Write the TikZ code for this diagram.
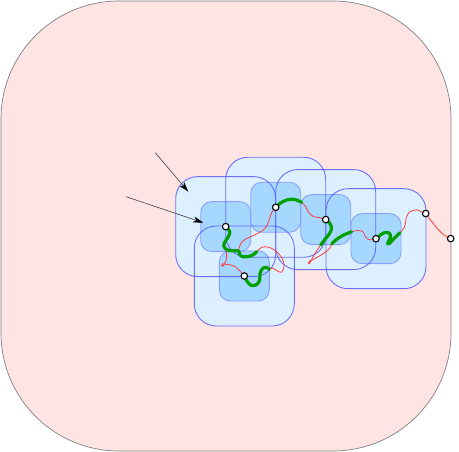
\documentclass[tikz,border=0pt]{standalone}
\usetikzlibrary{arrows.meta}
\definecolor{bgpink}{HTML}{FFE4E4}
\definecolor{framegray}{HTML}{808080}
\definecolor{outerfill}{HTML}{DDF0FF}
\definecolor{innerfill}{HTML}{A6D8FF}
\definecolor{boxline}{HTML}{5A5AFF}
\definecolor{innerline}{HTML}{7F8FFF}
\definecolor{pathred}{HTML}{FF3B3B}
\definecolor{pathgreen}{HTML}{00A000}
\definecolor{arrowgray}{HTML}{404040}
\begin{document}
\begin{tikzpicture}[x=1pt,y=-1pt,
  outerbg/.style={rectangle,rounded corners=22pt,minimum size=100pt,inner sep=0pt,fill=outerfill},
  innerbg/.style={rectangle,rounded corners=11pt,minimum size=50pt,inner sep=0pt,fill=innerfill},
  outerrim/.style={rectangle,rounded corners=22pt,minimum size=100pt,inner sep=0pt,draw=boxline,draw opacity=0.85,line width=0.9pt},
  innerrim/.style={rectangle,rounded corners=11pt,minimum size=50pt,inner sep=0pt,draw=innerline,draw opacity=0.8,line width=0.9pt},
  redpath/.style={draw=pathred,line width=0.8pt},
  greenpath/.style={draw=pathgreen,line width=3.2pt,line cap=round,line join=round},
  dot/.style={circle,draw=black,fill=white,line width=1.1pt,minimum size=6.5pt,inner sep=0pt},
  pointer/.style={draw=arrowgray,line width=0.6pt,-{Stealth[length=10pt,width=6pt,inset=2.5pt,black]}}]
\useasboundingbox (0,0) rectangle (459,452);
% frame
\node[draw=framegray,fill=bgpink,line width=0.7pt,rounded corners=118pt,rectangle,
      minimum width=450pt,minimum height=450pt,inner sep=0pt] (frame) at (226,226) {};
% points
\coordinate (p1) at (225.7,226.6);
\coordinate (p2) at (244.3,276.0);
\coordinate (p3) at (275.7,207.3);
\coordinate (p4) at (325.7,219.6);
\coordinate (p5) at (376.0,238.7);
\coordinate (p6) at (425.7,213.5);
\coordinate (p7) at (450.7,238.6);
% junctions
\coordinate (j0) at (223.8,246.0);
\coordinate (j1) at (256.7,251.7);
\coordinate (j2) at (238.5,250.9);
\coordinate (j3) at (269.3,269.5);
\coordinate (j4) at (301.7,202.3);
\coordinate (j5) at (320.7,245.0);
\coordinate (j6) at (331.7,244.0);
\coordinate (j7) at (351.7,231.7);
\coordinate (j8) at (400.0,232.7);
\coordinate (a1s) at (155.3,152.7);
\coordinate (a1e) at (188.3,191.7);
\coordinate (a2s) at (126.0,196.7);
\coordinate (a2e) at (203.3,222.7);
% box fills
\node[outerbg] (ob1) at (p1) {};
\node[outerbg] (ob2) at (p2) {};
\node[outerbg] (ob3) at (p3) {};
\node[outerbg] (ob4) at (p4) {};
\node[outerbg] (ob5) at (p5) {};
\node[innerbg] (ib1) at (p1) {};
\node[innerbg] (ib2) at (p2) {};
\node[innerbg] (ib3) at (p3) {};
\node[innerbg] (ib4) at (p4) {};
\node[innerbg] (ib5) at (p5) {};
% box rims
\node[innerrim] (ir1) at (p1) {};
\node[innerrim] (ir2) at (p2) {};
\node[innerrim] (ir3) at (p3) {};
\node[innerrim] (ir4) at (p4) {};
\node[innerrim] (ir5) at (p5) {};
\node[outerrim] (or1) at (p1) {};
\node[outerrim] (or2) at (p2) {};
\node[outerrim] (or3) at (p3) {};
\node[outerrim] (or4) at (p4) {};
\node[outerrim] (or5) at (p5) {};
% red path pieces
\draw[redpath] plot[smooth,tension=0.55] coordinates {(j0) (226.3,252) (226.6,257) (225.6,261.5) (224.2,264.4) (222.7,266.2) (221.6,265.2) (222.4,263.8) (224.8,264.2) (229,264.6) (234.5,266.3) (239.5,270.5) (p2)};
\draw[redpath] plot[smooth,tension=0.55] coordinates {(j2) (240.6,244) (245,239.5) (253.3,235.6) (260,232.2) (265,228.5) (268.3,222.5) (270.5,215.5) (273,210.2) (p3)};
\draw[redpath] plot[smooth,tension=0.55] coordinates {(j1) (260.5,248) (265.5,246.7) (272,248.5) (278.5,253.5) (283.2,260.5) (284,267) (281.5,272.2) (277.5,271) (272.5,268) (j3)};
\draw[redpath] plot[smooth,tension=0.55] coordinates {(j4) (305.5,206.5) (308.8,212.5) (313.5,216.5) (320,217.7) (p4)};
\draw[redpath] plot[smooth,tension=0.5] coordinates {(j5) (316.5,251) (313.5,256) (311.4,260) (310,262.8) (308.9,263.9) (308.6,262.3) (310,260.7) (312.6,259.9) (316,258) (320,255.6) (325,252.4) (329.5,248.6) (j6)};
\draw[redpath] plot[smooth,tension=0.55] coordinates {(j7) (358.3,230.5) (363,231.8) (365,236) (368.5,239.7) (372.3,239.8) (p5)};
\draw[redpath] plot[smooth,tension=0.55] coordinates {(j8) (404.5,227) (406.3,218) (409.5,212) (416.7,209.8) (421.7,212.0) (p6)};
\draw[redpath] plot[smooth,tension=0.55] coordinates {(p6) (431.7,221.5) (439.5,230.8) (445,235.6) (p7)};
% green path pieces
\draw[greenpath] plot[smooth,tension=0.55] coordinates {(p1) (229.8,231.8) (228.3,236.8) (225,241.7) (j0) (226.5,249.6) (232.5,250.8) (j2) (239.8,254.8) (244,256.9) (251.5,255.7) (j1)};
\draw[greenpath] plot[smooth,tension=0.55] coordinates {(p2) (247.3,281.7) (251.5,285.5) (256.7,284.5) (259.7,280) (260,273.5) (262.5,268.6) (266.5,267.4) (j3)};
\draw[greenpath] plot[smooth,tension=0.55] coordinates {(p3) (280,203.3) (286.7,200) (293.3,199.2) (298.3,200.8) (j4)};
\draw[greenpath] plot[smooth,tension=0.55] coordinates {(p4) (329.8,223.3) (331.5,228.3) (329.3,234) (325,239.3) (j5)};
\draw[greenpath] plot[smooth,tension=0.55] coordinates {(j6) (336.7,239.3) (343.3,235.2) (j7)};
\draw[greenpath] plot[smooth,tension=0.55] coordinates {(p5) (380,235.3) (384,232.8) (388.3,232.7) (390.6,235.3) (389.5,239.5) (387.4,243.6) (389.4,243.4) (393.3,239.3) (j8)};
% points
\node[dot] (n1) at (p1) {};
\node[dot] (n2) at (p2) {};
\node[dot] (n3) at (p3) {};
\node[dot] (n4) at (p4) {};
\node[dot] (n5) at (p5) {};
\node[dot] (n6) at (p6) {};
\node[dot] (n7) at (p7) {};
% pointers
\draw[pointer] (a1s) -- (a1e);
\draw[pointer] (a2s) -- (a2e);
\end{tikzpicture}
\end{document}
